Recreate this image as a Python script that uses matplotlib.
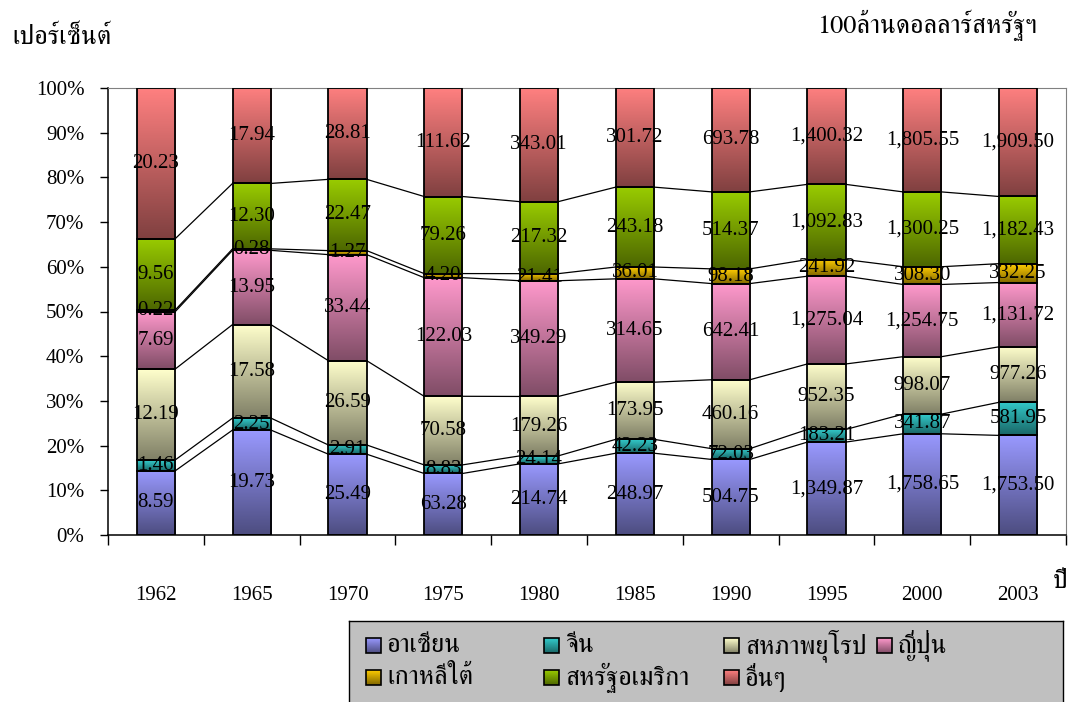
import numpy as np
import matplotlib
matplotlib.use("Agg")
import matplotlib.pyplot as plt
from matplotlib.colors import LinearSegmentedColormap, to_rgb

plt.rcParams["font.family"] = ["Liberation Serif", "FreeSerif"]

# trade value, 100 million USD
years = ["1962", "1965", "1970", "1975", "1980", "1985", "1990", "1995", "2000", "2003"]
names = ["อาเซียน", "จีน", "สหภาพยุโรป", "ญี่ปุ่น", "เกาหลีใต้", "สหรัฐอเมริกา", "อื่นๆ"]
asean = [8.59, 19.73, 25.49, 63.28, 214.74, 248.97, 504.75, 1349.87, 1758.65, 1753.50]
china = [1.46, 2.25, 2.91, 8.83, 24.14, 42.23, 72.03, 183.21, 341.87, 581.95]
eu = [12.19, 17.58, 26.59, 70.58, 179.26, 173.95, 460.16, 952.35, 998.07, 977.26]
japan = [7.69, 13.95, 33.44, 122.03, 349.29, 314.65, 642.41, 1275.04, 1254.75, 1131.72]
korea = [0.22, 0.28, 1.27, 4.20, 21.41, 36.01, 98.18, 241.92, 308.30, 332.25]
usa = [9.56, 12.30, 22.47, 79.26, 217.32, 243.18, 514.37, 1092.83, 1300.25, 1182.43]
others = [20.23, 17.94, 28.81, 111.62, 343.01, 301.72, 693.78, 1400.32, 1805.55, 1909.50]
colors = ["#9999FF", "#33CCCC", "#FFFFCC", "#FF99CC", "#FFCC00", "#99CC00", "#FF8080"]

series = np.array([asean, china, eu, japan, korea, usa, others])
pct = series / series.sum(axis=0) * 100
x = np.arange(len(years))
bw = 0.4

grad = np.linspace(0, 1, 256).reshape(-1, 1)


def shade_map(c):
    light = np.array(to_rgb(c))
    return LinearSegmentedColormap.from_list("g", [light, light * 0.5])


W, H = 1079, 702
fig = plt.figure(figsize=(W / 100, H / 100), dpi=100)
ax = fig.add_axes([108 / W, 1 - 535 / H, 958 / W, 447 / H])

bottom = np.zeros(len(years))
tops = []
for k in range(len(names)):
    bars = ax.bar(x, pct[k], bw, bottom=bottom, facecolor="none",
                  edgecolor="black", linewidth=1.3, zorder=3)
    cm = shade_map(colors[k])
    for rect in bars:
        x0, y0 = rect.get_x(), rect.get_y()
        ax.imshow(grad, cmap=cm, aspect="auto", origin="upper", zorder=2,
                  extent=(x0, x0 + rect.get_width(), y0, y0 + rect.get_height()))
    for i in range(len(years)):
        ax.text(x[i], bottom[i] + pct[k][i] / 2, f"{series[k][i]:,.2f}",
                ha="center", va="center", fontsize=15, zorder=4)
    bottom = bottom + pct[k]
    tops.append(bottom.copy())

# series lines between neighbouring bars
for t in tops[:-1]:
    for i in range(len(years) - 1):
        ax.plot([x[i] + bw / 2, x[i + 1] - bw / 2], [t[i], t[i + 1]],
                color="black", linewidth=0.9, zorder=1)

ax.set_xlim(-0.5, len(years) - 0.5)
ax.set_ylim(0, 100)
ax.set_yticks(np.arange(0, 101, 10))
ax.set_yticklabels([f"{v}%" for v in range(0, 101, 10)], fontsize=15)
ax.tick_params(axis="y", direction="out", length=6, width=1, pad=11)
ax.set_xticks(x)
ax.set_xticklabels(years, fontsize=15)
ax.set_xticks(np.arange(-0.5, len(years)), minor=True)
ax.tick_params(axis="x", which="major", length=0, pad=37)
ax.tick_params(axis="x", which="minor", direction="out", length=7, width=1)
for s in ["top", "right"]:
    ax.spines[s].set_color("#808080")
    ax.spines[s].set_linewidth(0.8)
for s in ["left", "bottom"]:
    ax.spines[s].set_linewidth(1.1)

thai = ["FreeSerif"]
fig.text(12 / W, 1 - 38 / H, "เปอร์เซ็นต์", family=thai, fontsize=19, va="center")
fig.text(817 / W, 1 - 25 / H, "100ล้านดอลลาร์สหรัฐฯ", family=thai, fontsize=19,
         ha="left", va="center")
fig.text(1053 / W, 1 - 582 / H, "ปี", family=thai, fontsize=19, va="center")

# legend panel drawn in pixel coordinates
lax = fig.add_axes([349 / W, -0.05, 714 / W, 0.05 + (H - 621) / H])
lax.set_facecolor("#C0C0C0")
lax.set_xticks([])
lax.set_yticks([])
for s in lax.spines.values():
    s.set_linewidth(1.0)
slots = [(366, 638), (544, 638), (724, 638), (877, 638),
         (366, 670), (544, 670), (724, 670)]
for k, (mx, my) in enumerate(slots):
    lax.imshow(grad, cmap=shade_map(colors[k]), aspect="auto", origin="upper",
               extent=(mx, mx + 15, my + 15, my), zorder=2)
    lax.add_patch(plt.Rectangle((mx, my), 15, 15, facecolor="none",
                                edgecolor="black", linewidth=1.2, zorder=3))
    lax.text(mx + 21, my + 7.5, names[k], family=thai, fontsize=19,
             va="center", ha="left")
lax.set_xlim(349, 1063)
lax.set_ylim(H + 0.05 * H, 621)

fig.savefig("out.png", dpi=100)
